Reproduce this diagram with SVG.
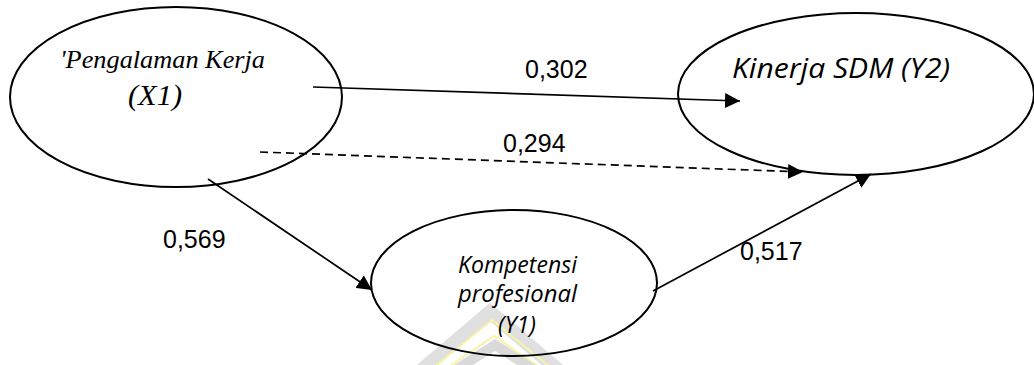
<svg xmlns="http://www.w3.org/2000/svg" width="1034" height="365" viewBox="0 0 1034 365">
<style>
.node{fill:none;stroke:#000;stroke-width:2}
.conn{stroke:#000;stroke-width:1.7;fill:none}
.dash{stroke-dasharray:8 5}
.lbl{font-family:"Liberation Sans",Arial,sans-serif;font-size:25px;fill:#000}
.serif{font-family:"Liberation Serif","Times New Roman",serif;font-style:italic;fill:#000}
.sans{font-family:"Open Sans","Noto Sans",sans-serif;font-style:italic;fill:#000}
</style>
<defs>
<marker id="ahL" viewBox="0 0 10 10" refX="10" refY="5" markerWidth="15" markerHeight="15" markerUnits="userSpaceOnUse" orient="auto">
<path d="M0,0 L10,5 L0,10 Z" fill="#000"/>
</marker>
</defs>
<rect width="1034" height="365" fill="#fff"/>
<g id="watermark" opacity="0.55">
<path d="M410,380 L490,312 L570,380" fill="none" stroke="#c8c8c8" stroke-width="14"/>
<path d="M418,380 L492,320 L566,380" fill="none" stroke="#f2ea60" stroke-width="2"/>
<path d="M430,380 L494,336 L558,380" fill="none" stroke="#f2ea60" stroke-width="2"/>
<path d="M440,380 L495,345 L550,380" fill="none" stroke="#bdbdbd" stroke-width="10"/>
</g>
<g id="n-x1">
<ellipse class="node" cx="176" cy="97" rx="166" ry="90"/>
<text class="serif" x="60" y="68" font-size="26" textLength="205" lengthAdjust="spacingAndGlyphs">'Pengalaman Kerja</text>
<text class="serif" x="128" y="105" font-size="29" textLength="54" lengthAdjust="spacingAndGlyphs">(X1)</text>
</g>
<g id="n-y2">
<ellipse class="node" cx="856" cy="94" rx="178" ry="81"/>
<text class="sans" x="732" y="78" font-size="28" textLength="218" lengthAdjust="spacingAndGlyphs">Kinerja SDM (Y2)</text>
</g>
<g id="n-y1">
<ellipse class="node" cx="514" cy="283" rx="143" ry="73"/>
<text class="sans" x="458" y="273" font-size="23" textLength="119" lengthAdjust="spacingAndGlyphs">Kompetensi</text>
<text class="sans" x="458" y="302" font-size="23" textLength="119" lengthAdjust="spacingAndGlyphs">profesional</text>
<text class="sans" x="498" y="333" font-size="23" textLength="38" lengthAdjust="spacingAndGlyphs">(Y1)</text>
</g>
<g id="connectors">
<line class="conn" x1="313" y1="87" x2="740" y2="101" marker-end="url(#ahL)"/>
<line class="conn dash" x1="260" y1="152" x2="803" y2="172" marker-end="url(#ahL)"/>
<line class="conn" x1="208" y1="179" x2="372" y2="290" marker-end="url(#ahL)"/>
<line class="conn" x1="653" y1="291" x2="871" y2="174" marker-end="url(#ahL)"/>
</g>
<g id="labels">
<text class="lbl" x="525" y="78">0,302</text>
<text class="lbl" x="503" y="152">0,294</text>
<text class="lbl" x="163" y="248">0,569</text>
<text class="lbl" x="740" y="260">0,517</text>
</g>
</svg>
